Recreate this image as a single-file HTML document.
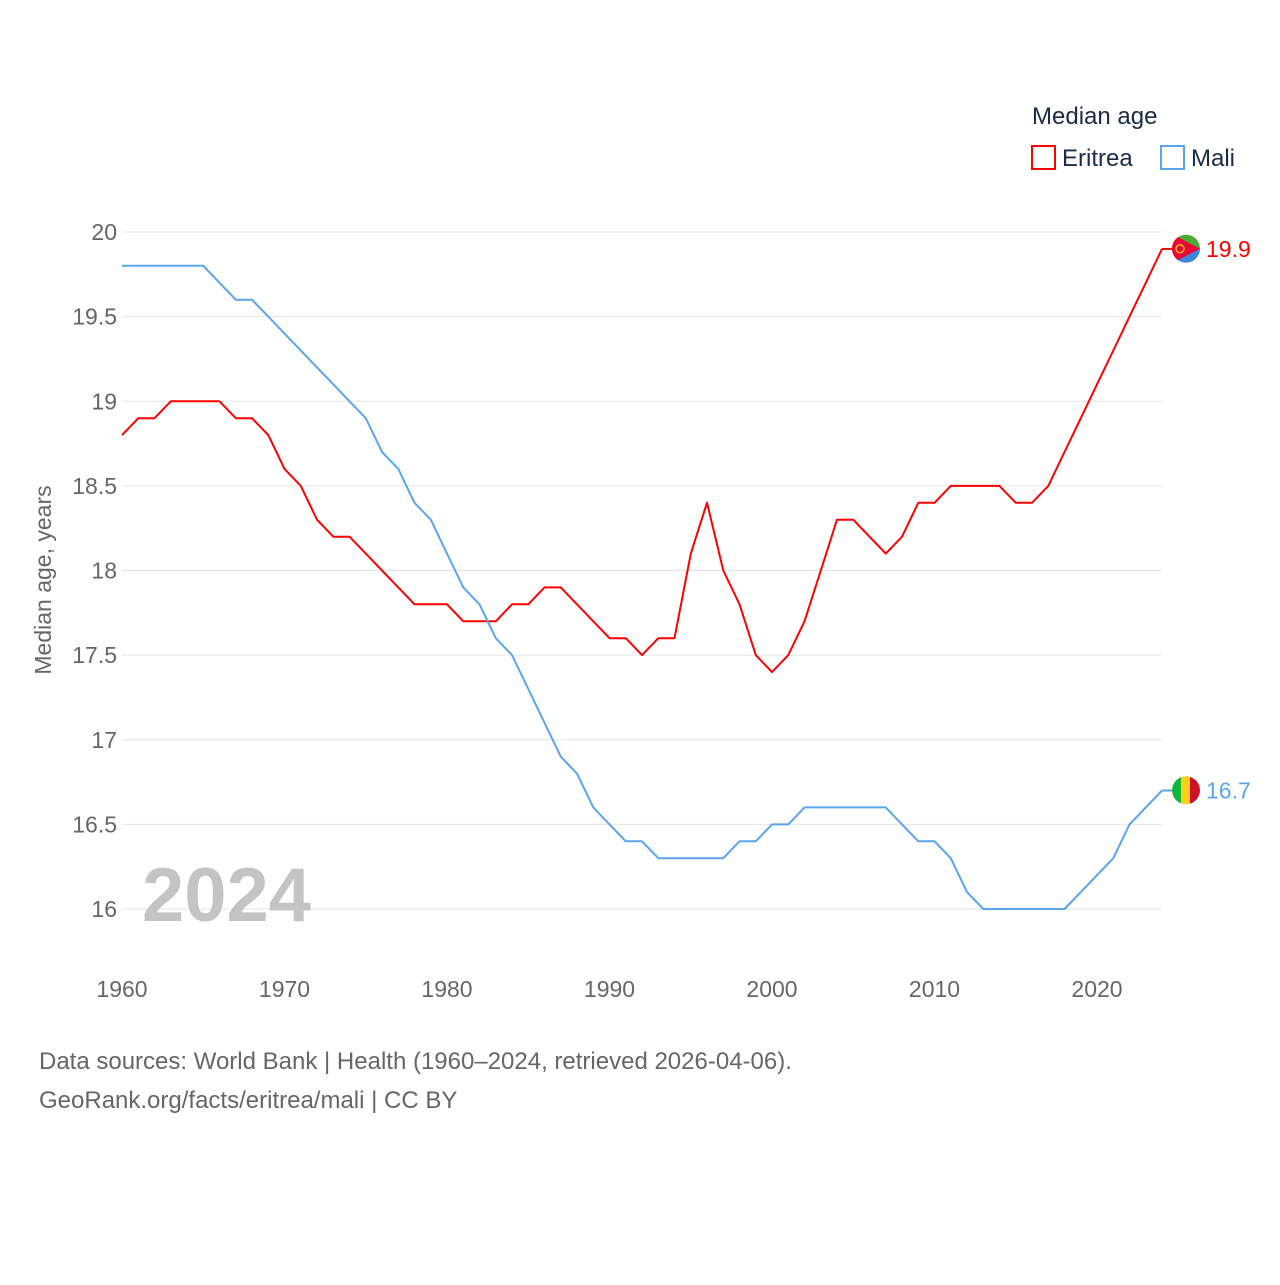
<!DOCTYPE html>
<html><head><meta charset="utf-8">
<style>
body{margin:0;background:#fff;font-family:"Liberation Sans",sans-serif;}
svg text{font-family:"Liberation Sans",sans-serif;}
</style></head>
<body>
<svg id="chart" width="1280" height="1280" viewBox="0 0 1280 1280">
<defs>
<clipPath id="c1"><circle cx="1186" cy="248.7" r="14"/></clipPath>
<clipPath id="c2"><circle cx="1186" cy="790.3" r="14"/></clipPath>
</defs>
<text x="1032" y="124" font-size="24" fill="#1a2b4a">Median age</text>
<g>
<rect x="1032" y="146" width="23" height="23" fill="none" stroke="#ff0000" stroke-width="2"/>
<text x="1062" y="166" font-size="24" fill="#1a2b4a">Eritrea</text></g>
<g>
<rect x="1161" y="146" width="23" height="23" fill="none" stroke="#5aa5ee" stroke-width="2"/>
<text x="1191" y="166" font-size="24" fill="#1a2b4a">Mali</text></g>
<g id="grid"></g>
<g id="yticks"></g>
<g id="xticks"></g>
<text transform="translate(51,580) rotate(-90)" text-anchor="middle" font-size="23" fill="#666">Median age, years</text>
<text x="142" y="921" font-size="76" font-weight="bold" fill="#c4c4c4">2024</text>
<g id="series"></g>
<g clip-path="url(#c1)">
<rect x="1172" y="234" width="28" height="15" fill="#4caa36"/>
<rect x="1172" y="249" width="28" height="14" fill="#3a85de"/>
<polygon points="1172,234 1172,263 1200,248.7" fill="#ea0437"/>
<circle cx="1180" cy="248.7" r="4" fill="none" stroke="#f5c518" stroke-width="1.5"/>
</g>
<g clip-path="url(#c2)">
<rect x="1172" y="776" width="10" height="29" fill="#14b53a"/>
<rect x="1181" y="776" width="10" height="29" fill="#fcd116"/>
<rect x="1190" y="776" width="10" height="29" fill="#ce1126"/>
</g>
<text x="39" y="1069" font-size="24" fill="#666">Data sources: World Bank | Health (1960–2024, retrieved 2026-04-06).</text>
<text x="39" y="1108" font-size="24" fill="#666">GeoRank.org/facts/eritrea/mali | CC BY</text>
</svg>
<script>
const years = [];
for (let y = 1960; y <= 2024; y++) years.push(y);
const eritrea = [18.8,18.9,18.9,19.0,19.0,19.0,19.0,18.9,18.9,18.8,18.6,18.5,18.3,18.2,18.2,18.1,18.0,17.9,17.8,17.8,17.8,17.7,17.7,17.7,17.8,17.8,17.9,17.9,17.8,17.7,17.6,17.6,17.5,17.6,17.6,18.1,18.4,18.0,17.8,17.5,17.4,17.5,17.7,18.0,18.3,18.3,18.2,18.1,18.2,18.4,18.4,18.5,18.5,18.5,18.5,18.4,18.4,18.5,18.7,18.9,19.1,19.3,19.5,19.7,19.9];
const mali = [19.8,19.8,19.8,19.8,19.8,19.8,19.7,19.6,19.6,19.5,19.4,19.3,19.2,19.1,19.0,18.9,18.7,18.6,18.4,18.3,18.1,17.9,17.8,17.6,17.5,17.3,17.1,16.9,16.8,16.6,16.5,16.4,16.4,16.3,16.3,16.3,16.3,16.3,16.4,16.4,16.5,16.5,16.6,16.6,16.6,16.6,16.6,16.6,16.5,16.4,16.4,16.3,16.1,16.0,16.0,16.0,16.0,16.0,16.0,16.1,16.2,16.3,16.5,16.6,16.7];
const yTickVals = [16,16.5,17,17.5,18,18.5,19,19.5,20];
const yTickLabels = ["16","16.5","17","17.5","18","18.5","19","19.5","20"];
const xTickVals = [1960,1970,1980,1990,2000,2010,2020];
const xTickLabels = ["1960","1970","1980","1990","2000","2010","2020"];

const NS = "http://www.w3.org/2000/svg";
const x = v => 122 + (v - 1960) * 16.25;
const y = v => 909 - (v - 16) * 169.25;
function mk(tag, attrs, parent){const e=document.createElementNS(NS,tag);for(const k in attrs)e.setAttribute(k,attrs[k]);parent.appendChild(e);return e;}
const grid=document.getElementById('grid'), yt=document.getElementById('yticks'), xt=document.getElementById('xticks'), ser=document.getElementById('series');
yTickVals.forEach((v,i)=>{
  const l=mk('line',{x1:122,x2:1162,y1:y(v),y2:y(v),stroke:'#e6e6e6','stroke-width':1},grid);
  
  
  const t=mk('text',{x:117,y:y(v)+8,'text-anchor':'end','font-size':23,fill:'#666'},yt);
  t.textContent=yTickLabels[i];
  
  
});
xTickVals.forEach((v,i)=>{
  const t=mk('text',{x:x(v),y:997,'text-anchor':'middle','font-size':23,fill:'#666'},xt);
  t.textContent=xTickLabels[i];
  
  
});
function line(vals,color,name){
  const d=vals.map((v,i)=>(i?'L':'M')+x(years[i]).toFixed(1)+','+y(v).toFixed(1)).join(' ');
  const p=mk('path',{d:d,fill:'none',stroke:color,'stroke-width':2,'stroke-linejoin':'round'},ser);
  
  
  const last=vals[vals.length-1];
  const cy=y(last);
  mk('line',{x1:x(2024),x2:1172,y1:cy,y2:cy,stroke:color,'stroke-width':2},ser);
  const t=mk('text',{x:1206,y:cy+8,'font-size':23,fill:color},ser);
  t.textContent=last.toFixed(1);
  
  
}
line(eritrea,'#ff0000','eritrea');
line(mali,'#5aa5ee','mali');
</script>
</body></html>
